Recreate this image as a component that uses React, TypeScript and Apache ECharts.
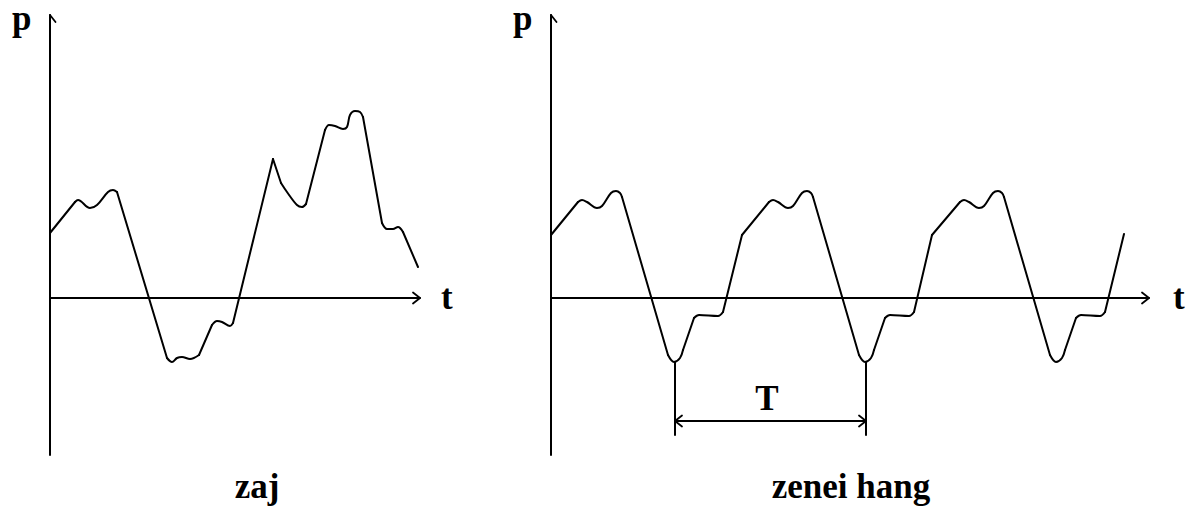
import React, { useEffect, useRef } from "react";
import * as echarts from "echarts";

// ---- data (t = time offset from p-axis, p = pressure above t-axis) ----
const noiseTime = [0, 25, 28, 40, 47, 58, 63, 67, 117, 122, 127, 132, 140, 149, 162, 167, 172, 180, 183, 223, 231, 237, 247, 252, 256, 275, 279, 285, 293, 297, 300, 305, 310, 313, 332, 337, 343, 348, 353, 368];
const noisePressure = [65, 96, 98, 90, 93, 106, 108, 106, -60, -64, -60, -59, -61, -57, -27, -23, -24, -28, -25, 139, 115, 106, 93, 91, 94, 168, 173, 172, 169, 171, 183, 187, 186, 181, 75, 69, 69, 71, 66, 31];

const toneTime = [
  0, 27, 31, 36, 46, 51, 60, 65, 69, 71, 117, 123, 129, 132, 143, 148, 167, 172,
  191, 218, 222, 227, 237, 242, 251, 256, 260, 262, 308, 314, 320, 323, 334, 339, 358, 363,
  381, 409, 413, 418, 428, 433, 442, 447, 451, 453, 499, 505, 511, 514, 525, 530, 549, 554,
  573,
];
const tonePressure = [
  63, 96, 98, 96, 90, 92, 105, 107, 105, 101, -57, -64, -60, -52, -20, -17, -18, -14,
  63, 96, 98, 96, 90, 92, 105, 107, 105, 101, -57, -64, -60, -52, -20, -17, -18, -14,
  63, 96, 98, 96, 90, 92, 105, 107, 105, 101, -57, -64, -60, -52, -20, -17, -18, -14,
  64,
];

// period marker (start / end of T, on the tone chart)
const periodStart = 124;
const periodEnd = 315;
const periodLevel = -123;
const periodTop = -64;
const periodBottom = -137;

// axis extents (data units)
const pMin = -157;
const pMax = 283;
const noiseTMax = 370;
const toneTMax = 598;

const labels = {
  p: "p",
  t: "t",
  T: "T",
  noise: "zaj",
  tone: "zenei hang",
};

const zip = (a: number[], b: number[]) => a.map((v, i) => [v, b[i]]);

function poly(points: number[][], gi: number, smooth: number | boolean = false, width = 2) {
  return {
    type: "line",
    xAxisIndex: gi,
    yAxisIndex: gi,
    data: points,
    symbol: "none",
    smooth,
    clip: false,
    silent: true,
    lineStyle: { color: "#000", width, cap: "round", join: "round" },
  };
}

// long segments are drawn straight, short wiggles are smoothed
const STRAIGHT_LEN = 20;
function curveSeries(points: number[][], gi: number) {
  const out: any[] = [];
  let piece: number[][] = [points[0]];
  for (let i = 0; i < points.length - 1; i++) {
    const a = points[i];
    const b = points[i + 1];
    const len = Math.hypot(b[0] - a[0], b[1] - a[1]);
    if (len > STRAIGHT_LEN) {
      if (piece.length > 1) out.push(poly(piece, gi, 0.35, 2));
      out.push(poly([a, b], gi, false, 2));
      piece = [b];
    } else {
      piece.push(b);
    }
  }
  if (piece.length > 1) out.push(poly(piece, gi, 0.35, 2));
  return out;
}

const AH = 7; // arrow head length
const AW = 5.5; // arrow head half-width

function axesSeries(gi: number, tMax: number) {
  return [
    poly([[0, pMin], [0, pMax]], gi, false, 2),
    poly([[0, 0], [tMax, 0]], gi, false, 2),
    poly([[-AW, pMax - AH], [0, pMax], [AW, pMax - AH]], gi, false, 1.8),
    poly([[tMax - AH, AW], [tMax, 0], [tMax - AH, -AW]], gi, false, 1.8),
  ];
}

const textStyle = (text: string, align: string, vAlign = "middle") => ({
  text,
  fontSize: 35,
  fontWeight: "bold",
  fontFamily: '"Liberation Serif", "Times New Roman", serif',
  fill: "#000",
  align,
  textAlign: align,
  verticalAlign: vAlign,
  textVerticalAlign: vAlign,
});

export default function App() {
  const ref = useRef<HTMLDivElement>(null);

  useEffect(() => {
    if (!ref.current) return;
    const chart = echarts.init(ref.current, null, { renderer: "svg" });
    const option = {
      animation: false,
      backgroundColor: "#fff",
      grid: [
        { left: 50, top: 15, width: 370, height: 440 },
        { left: 551, top: 15, width: 598, height: 440 },
      ],
      xAxis: [
        { gridIndex: 0, type: "value", min: 0, max: noiseTMax, show: false },
        { gridIndex: 1, type: "value", min: 0, max: toneTMax, show: false },
      ],
      yAxis: [
        { gridIndex: 0, type: "value", min: pMin, max: pMax, show: false },
        { gridIndex: 1, type: "value", min: pMin, max: pMax, show: false },
      ],
      graphic: [
        { type: "text", x: 12, y: 1, style: textStyle(labels.p, "left", "top") },
        { type: "text", x: 513, y: 1, style: textStyle(labels.p, "left", "top") },
        { type: "text", x: 441, y: 297, style: textStyle(labels.t, "left") },
        { type: "text", x: 1173, y: 297, style: textStyle(labels.t, "left") },
        { type: "text", x: 767, y: 398, style: textStyle(labels.T, "center") },
        { type: "text", x: 257, y: 486, style: textStyle(labels.noise, "center") },
        { type: "text", x: 851, y: 486, style: textStyle(labels.tone, "center") },
      ],
      series: [
        ...axesSeries(0, noiseTMax),
        ...axesSeries(1, toneTMax),
        ...curveSeries(zip(noiseTime, noisePressure), 0),
        ...curveSeries(zip(toneTime, tonePressure), 1),
        poly([[periodStart, periodTop], [periodStart, periodBottom]], 1, false, 2),
        poly([[periodEnd, periodTop], [periodEnd, periodBottom]], 1, false, 2),
        poly([[periodStart, periodLevel], [periodEnd, periodLevel]], 1, false, 2),
        poly([[periodStart + AH, periodLevel + AW], [periodStart, periodLevel], [periodStart + AH, periodLevel - AW]], 1, false, 1.8),
        poly([[periodEnd - AH, periodLevel + AW], [periodEnd, periodLevel], [periodEnd - AH, periodLevel - AW]], 1, false, 1.8),
      ],
    };
    chart.setOption(option as any);
    return () => chart.dispose();
  }, []);

  return (
    <div
      ref={ref}
      style={{ position: "absolute", left: 0, top: 0, width: 1190, height: 509, background: "#fff" }}
    />
  );
}
